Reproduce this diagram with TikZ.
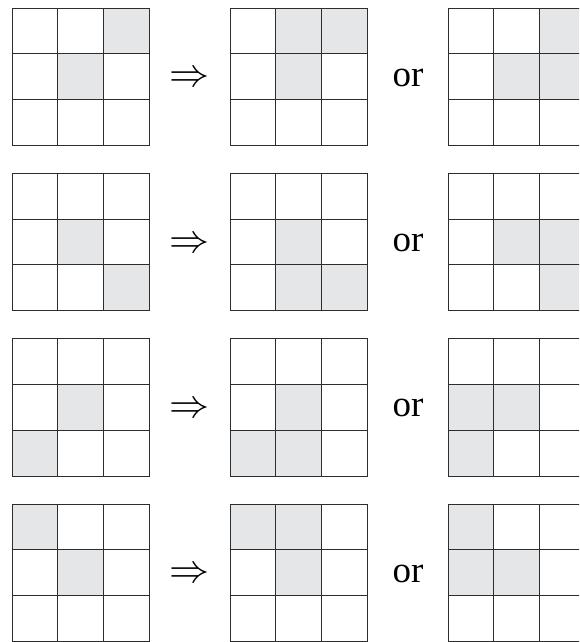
\documentclass[tikz,border=0pt]{standalone}
\usepackage{fontspec}
\usepackage{graphicx}
\setmainfont{Liberation Serif}
\definecolor{cellgray}{RGB}{229,230,231}
\definecolor{linegray}{RGB}{45,45,45}
\newcommand\cs{45.8}
\newcommand\mygrid[3]{%
  \foreach \r/\c in {#3} {\fill[cellgray] ({#1+\c*\cs},{#2+\r*\cs}) rectangle ++(\cs,\cs);}
  \foreach \k in {0,1,2,3} {
    \draw[gridline] ({#1+\k*\cs},#2) -- ++(0,{3*\cs});
    \draw[gridline] (#1,{#2+\k*\cs}) -- ++({3*\cs},0);
  }%
}
\begin{document}
\begin{tikzpicture}[x=1pt,y=-1pt,
  gridline/.style={linegray,line width=0.9pt,line cap=rect},
  arrowtxt/.style={inner sep=0pt},
  ortxt/.style={inner sep=0pt,anchor=base,font=\fontsize{37}{37}\selectfont}]
\useasboundingbox (0,0) rectangle (579,642);
\clip (0,0) rectangle (579,642);
\fill[white] (0,0) rectangle (579,642);
% row 1
\mygrid{12}{8}{0/2,1/1}
\mygrid{230}{8}{0/1,0/2,1/1}
\mygrid{448}{8}{0/2,1/1,1/2}
% row 2
\mygrid{12}{173.3}{1/1,2/2}
\mygrid{230}{173.3}{1/1,2/1,2/2}
\mygrid{448}{173.3}{1/1,1/2,2/2}
% row 3
\mygrid{12}{338.7}{1/1,2/0}
\mygrid{230}{338.7}{1/1,2/0,2/1}
\mygrid{448}{338.7}{1/0,1/1,2/0}
% row 4
\mygrid{12}{504}{0/0,1/1}
\mygrid{230}{504}{0/0,0/1,1/1}
\mygrid{448}{504}{0/0,1/0,1/1}
% arrows and "or"
\foreach \y [count=\i] in {8,173.3,338.7,504} {
  \node[arrowtxt] (arr\i) at (189,{\y+71.5}) {\scalebox{4}{$\Rightarrow$}};
  \node[ortxt] (or\i) at (408,{\y+78}) {or};
}
\end{tikzpicture}
\end{document}
